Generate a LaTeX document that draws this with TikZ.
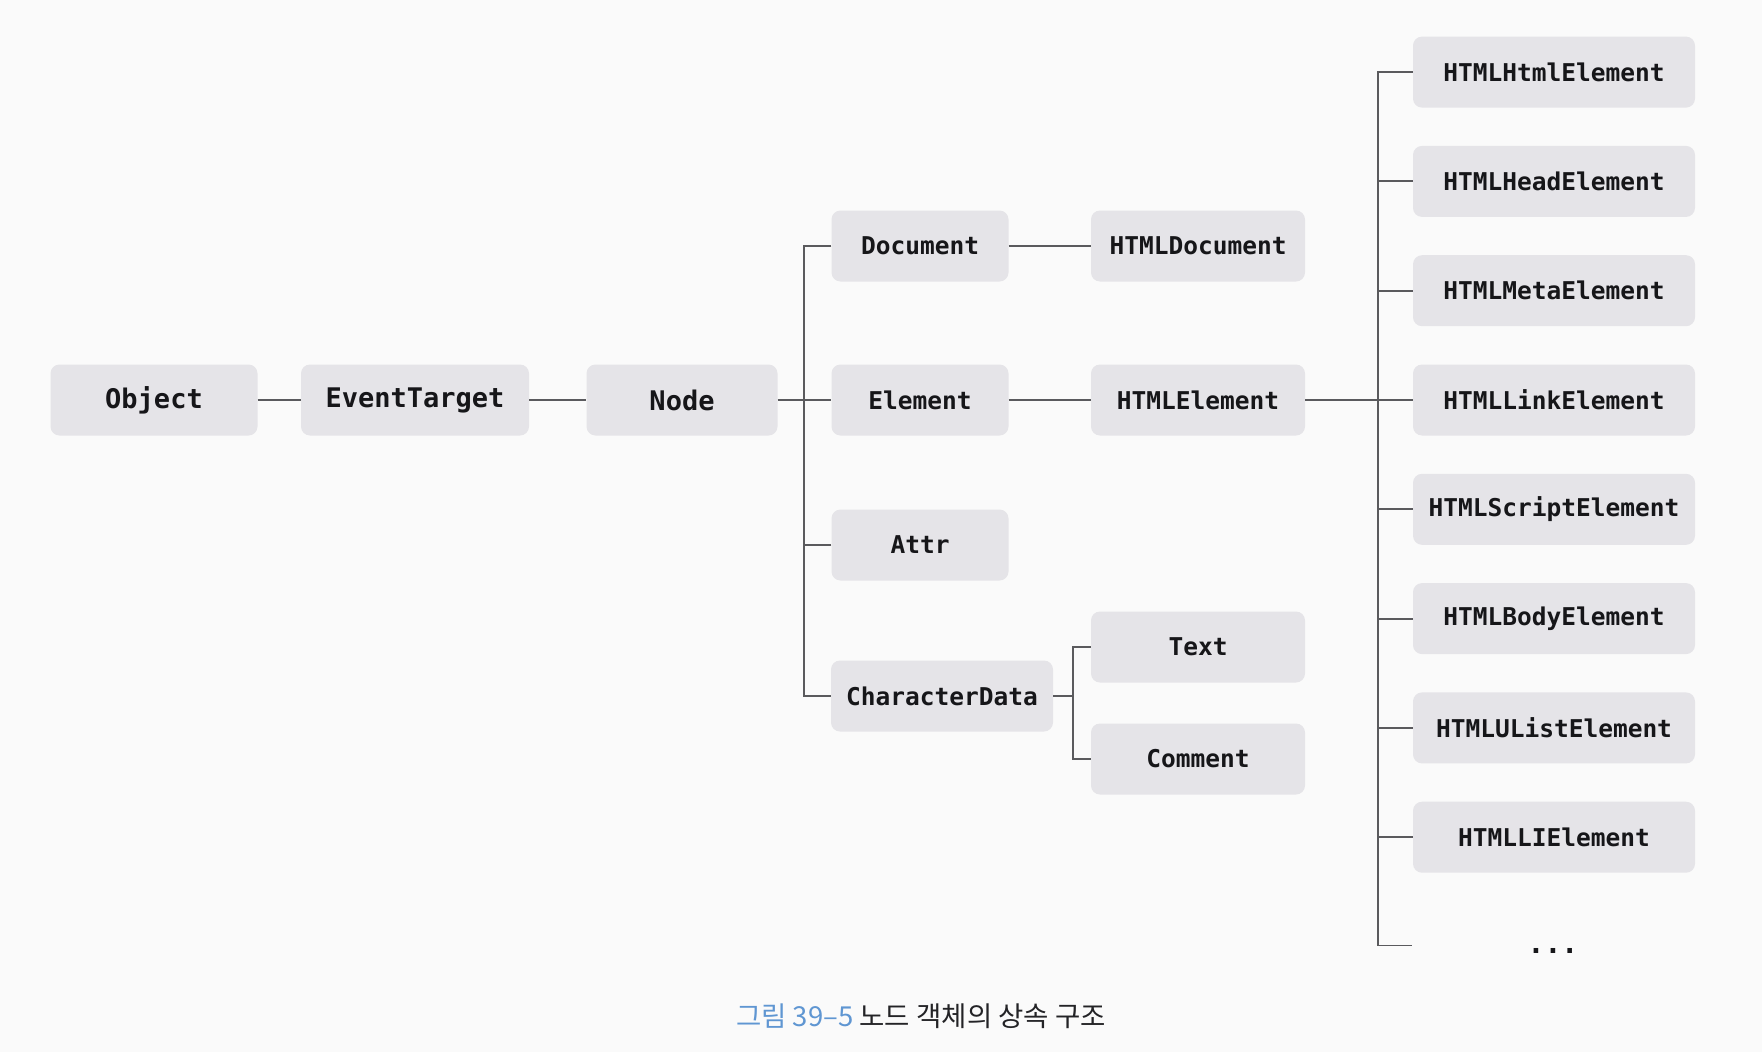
\documentclass[tikz,border=0pt]{standalone}
\usepackage{fontspec}
\newfontfamily\boxfam{DejaVu Sans Mono}
\newfontfamily\cjk{Noto Sans CJK KR}
\definecolor{boxgray}{RGB}{229,228,232}
\definecolor{txtdark}{RGB}{22,22,25}
\definecolor{linegray}{RGB}{90,90,93}
\definecolor{capblue}{RGB}{95,150,210}
\definecolor{captext}{RGB}{35,35,38}
\definecolor{paper}{RGB}{250,250,250}
\tikzset{
  box/.style={fill=boxgray, rounded corners=9pt, minimum height=71pt, inner sep=0pt,
    text=txtdark, font=\boxfam\bfseries\fontsize{24.5}{28}\selectfont},
  bigbox/.style={box, font=\boxfam\bfseries\fontsize{27}{30}\selectfont},
  conn/.style={draw=linegray, line width=1.9pt},
}
\begin{document}
\begin{tikzpicture}[x=1pt,y=-1pt]
\useasboundingbox (0,0) rectangle (1762,1052);
\fill[paper] (0,0) rectangle (1762,1052);
% main row
\node[bigbox, minimum width=207pt] (Object) at (154,400) {Object};
\node[bigbox, minimum width=228pt] (EventTarget) at (415,400) {EventTarget};
\node[bigbox, minimum width=191pt] (Node) at (682,400) {Node};
% Node children
\node[box, minimum width=177pt] (Document) at (920,246) {Document};
\node[box, minimum width=177pt] (Element) at (920,400) {Element};
\node[box, minimum width=177pt] (Attr) at (920,545) {Attr};
\node[box, minimum width=222pt] (CharacterData) at (942,696) {CharacterData};
% next level
\node[box, minimum width=214pt] (HTMLDocument) at (1198,246) {HTMLDocument};
\node[box, minimum width=214pt] (HTMLElement) at (1198,400) {HTMLElement};
\node[box, minimum width=214pt] (Text) at (1198,647) {Text};
\node[box, minimum width=214pt] (Comment) at (1198,759) {Comment};
% right column
\node[box, minimum width=282pt] (HTMLHtmlElement) at (1554,72.1) {HTMLHtmlElement};
\node[box, minimum width=282pt] (HTMLHeadElement) at (1554,181.4) {HTMLHeadElement};
\node[box, minimum width=282pt] (HTMLMetaElement) at (1554,290.7) {HTMLMetaElement};
\node[box, minimum width=282pt] (HTMLLinkElement) at (1554,400) {HTMLLinkElement};
\node[box, minimum width=282pt] (HTMLScriptElement) at (1554,509.3) {HTMLScriptElement};
\node[box, minimum width=282pt] (HTMLBodyElement) at (1554,618.6) {HTMLBodyElement};
\node[box, minimum width=282pt] (HTMLUListElement) at (1554,727.9) {HTMLUListElement};
\node[box, minimum width=282pt] (HTMLLIElement) at (1554,837.2) {HTMLLIElement};
\coordinate (moreend) at (1412,945.5);
\node[anchor=base, inner sep=0pt, text=txtdark, font=\boxfam\bfseries\fontsize{28}{30}\selectfont] (dots) at (1553,953.5) {...};
% caption
\node[inner sep=0pt, font=\cjk\fontsize{27.5}{31}\selectfont] (caption) at (921,1016)
  {\textcolor{capblue}{그림 39–5} \textcolor{captext}{노드 객체의 상속 구조}};
% connectors
\draw[conn] (Object.east) -- (EventTarget.west);
\draw[conn] (EventTarget.east) -- (Node.west);
\draw[conn] (Node.east) -- (Element.west);
\draw[conn] (Document.west) -- ++(-27,0) |- (CharacterData.west);
\draw[conn] (Attr.west) -- ++(-27,0);
\draw[conn] (Document.east) -- (HTMLDocument.west);
\draw[conn] (Element.east) -- (HTMLElement.west);
\draw[conn] (CharacterData.east) -- ++(20,0);
\draw[conn] (Text.west) -- ++(-18,0) |- (Comment.west);
\draw[conn] (HTMLElement.east) -- (HTMLLinkElement.west);
\draw[conn] (HTMLHtmlElement.west) -- ++(-35,0) |- (moreend);
\foreach \n in {HTMLHeadElement,HTMLMetaElement,HTMLScriptElement,HTMLBodyElement,HTMLUListElement,HTMLLIElement}
  \draw[conn] (\n.west) -- ++(-35,0);
\end{tikzpicture}
\end{document}
